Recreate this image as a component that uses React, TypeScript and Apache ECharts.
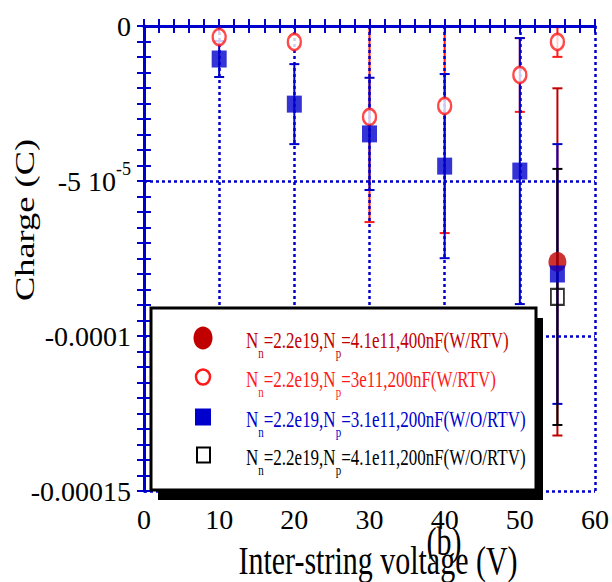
import React, { useEffect, useRef } from "react";
import * as echarts from "echarts";

// ---- data ----
const xRedFilled = [55];
const redFilledVals = [-7.61e-5];
const redFilledErr = [5.6e-5];

const xRedOpen = [10, 20, 30, 40, 50, 55];
const redOpenVals = [-3.55e-6, -5.16e-6, -2.935e-5, -2.58e-5, -1.58e-5, -5.16e-6];
const redOpenErr = [0, 0, 3.39e-5, 4.1e-5, 1.19e-5, 4.8e-6];

const xBlue = [10, 20, 30, 40, 50, 55];
const blueVals = [-1.065e-5, -2.52e-5, -3.48e-5, -4.52e-5, -4.68e-5, -8.0e-5];
const blueErr = [5.8e-6, 1.29e-5, 1.81e-5, 2.97e-5, 4.29e-5, 4.19e-5];

const xBlack = [55];
const blackVals = [-8.74e-5];
const blackErr = [4.13e-5];

const yTickValues = [0, -5e-5, -1e-4, -1.5e-4];
const yTickLabels = ["0", "-5 10{sup|-5}", "-0.0001", "-0.00015"];

const seriesNames = [
  "N{sub|n}=2.2e19,N{sub|p}=4.1e11,400nF(W/RTV)",
  "N{sub|n}=2.2e19,N{sub|p}=3e11,200nF(W/RTV)",
  "N{sub|n}=2.2e19,N{sub|p}=3.1e11,200nF(W/O/RTV)",
  "N{sub|n}=2.2e19,N{sub|p}=4.1e11,200nF(W/O/RTV)",
];

const xTitle = "Inter-string voltage (V)";
const yTitle = "Charge (C)";
const panelLabel = "(b)";

// ---- styles ----
const FONT = "'Liberation Serif', 'Times New Roman', serif";
const BLUE = "#0000cc";
const DARKRED = "#c00000";
const RED = "#ff1a1a";
const BLACK = "#000000";

function errSeries(xs: number[], vals: number[], errs: number[], color: string) {
  return {
    type: "custom",
    z: 1,
    silent: true,
    data: xs.map((x, i) => [x, vals[i], errs[i]]),
    renderItem: (params: any, api: any) => {
      const x = api.value(0);
      const v = api.value(1);
      const e = api.value(2);
      if (!e) return { type: "group", children: [] };
      const cs = params.coordSys;
      const top = api.coord([x, v + e]);
      const bot = api.coord([x, v - e]);
      const px = top[0];
      const yTop = Math.max(top[1], cs.y);
      const yBot = Math.min(bot[1], cs.y + cs.height);
      const st = { stroke: color, lineWidth: 2 };
      const children: any[] = [
        { type: "line", shape: { x1: px, y1: yTop, x2: px, y2: yBot }, style: st },
      ];
      if (top[1] >= cs.y)
        children.push({ type: "line", shape: { x1: px - 5, y1: top[1], x2: px + 5, y2: top[1] }, style: st });
      if (bot[1] <= cs.y + cs.height)
        children.push({ type: "line", shape: { x1: px - 5, y1: bot[1], x2: px + 5, y2: bot[1] }, style: st });
      return { type: "group", children };
    },
  };
}

const tickCommon = {
  axisLine: { show: true, lineStyle: { color: BLUE, width: 3 } },
  axisTick: { show: true, inside: true, length: 7, lineStyle: { color: BLUE, width: 2 } },
};

export default function App() {
  const ref = useRef<HTMLDivElement>(null);
  useEffect(() => {
    if (!ref.current) return;
    const chart = echarts.init(ref.current, null, { renderer: "svg", width: 612, height: 582 });
    const legendRows = [338, 377, 417, 455];
    const legendColors = [DARKRED, RED, BLUE, BLACK];
    const legendMarkers: any[] = [
      { type: "ellipse", shape: { cx: 203, cy: legendRows[0], rx: 9.5, ry: 11.5 }, style: { fill: DARKRED } },
      { type: "ellipse", shape: { cx: 203, cy: legendRows[1], rx: 7, ry: 7.5 }, style: { fill: "#fff", stroke: RED, lineWidth: 2.5 } },
      { type: "rect", shape: { x: 195, y: legendRows[2] - 8.5, width: 16, height: 17 }, style: { fill: BLUE } },
      { type: "rect", shape: { x: 197, y: legendRows[3] - 7.5, width: 13, height: 15 }, style: { fill: "#fff", stroke: BLACK, lineWidth: 2 } },
    ];
    const legendTexts = seriesNames.map((name, i) => ({
      type: "text",
      x: 246,
      y: legendRows[i] + 2,
      scaleY: 1.3,
      style: {
        text: name,
        fill: legendColors[i],
        fontFamily: FONT,
        fontSize: 17,
        align: "left",
        verticalAlign: "middle",
        rich: {
          sub: { fontSize: 11, fontFamily: FONT, fill: legendColors[i], padding: [21, 0, 0, 0] },
        },
      },
    }));

    const option: any = {
      animation: false,
      backgroundColor: "#ffffff",
      textStyle: { fontFamily: FONT },
      grid: { left: 144, right: 14, top: 26, bottom: 91, containLabel: false },
      xAxis: [
        {
          type: "value",
          min: 0,
          max: 60,
          interval: 10,
          position: "bottom",
          z: 2,
          ...tickCommon,
          minorTick: { show: true, splitNumber: 5, length: 7, lineStyle: { color: BLUE, width: 2 } },
          splitLine: { show: true, lineStyle: { color: BLUE, width: 2.5, type: [3, 3] } },
          axisLabel: { color: BLACK, fontFamily: FONT, fontSize: 28, margin: 14 },
        },
        {
          type: "value",
          min: 0,
          max: 60,
          interval: 10,
          position: "top",
          z: 2,
          ...tickCommon,
          minorTick: { show: true, splitNumber: 5, length: 7, lineStyle: { color: BLUE, width: 2 } },
          splitLine: { show: false },
          axisLabel: { show: false },
        },
      ],
      yAxis: [
        {
          type: "value",
          min: -1.5e-4,
          max: 0,
          interval: 5e-5,
          position: "left",
          z: 2,
          ...tickCommon,
          minorTick: { show: true, splitNumber: 10, length: 7, lineStyle: { color: BLUE, width: 2 } },
          splitLine: { show: true, lineStyle: { color: BLUE, width: 2.5, type: [3, 3] } },
          axisLabel: {
            color: BLACK,
            fontFamily: FONT,
            fontSize: 28,
            margin: 13,
            formatter: (v: number) => {
              const i = yTickValues.findIndex((t) => Math.abs(t - v) < 1e-9);
              return i >= 0 ? yTickLabels[i] : "";
            },
            rich: { sup: { fontSize: 18, fontFamily: FONT, color: BLACK, padding: [0, 0, 24, 0] } },
          },
        },
        {
          type: "value",
          min: -1.5e-4,
          max: 0,
          interval: 5e-5,
          position: "right",
          z: 2,
          ...tickCommon,
          minorTick: { show: true, splitNumber: 10, length: 7, lineStyle: { color: BLUE, width: 2 } },
          splitLine: { show: false },
          axisLabel: { show: false },
        },
      ],
      series: [
        errSeries(xRedFilled, redFilledVals, redFilledErr, DARKRED),
        errSeries(xRedOpen, redOpenVals, redOpenErr, RED),
        errSeries(xBlue, blueVals, blueErr, BLUE),
        errSeries(xBlack, blackVals, blackErr, BLACK),
        {
          type: "scatter",
          name: seriesNames[0],
          z: 3,
          symbol: "circle",
          symbolSize: [18, 20],
          itemStyle: { color: DARKRED },
          data: xRedFilled.map((x, i) => [x, redFilledVals[i]]),
        },
        {
          type: "scatter",
          name: seriesNames[1],
          z: 3,
          symbol: "circle",
          symbolSize: [13, 16],
          itemStyle: { color: "#ffffff", borderColor: RED, borderWidth: 2.5 },
          data: xRedOpen.map((x, i) => [x, redOpenVals[i]]),
        },
        {
          type: "scatter",
          name: seriesNames[2],
          z: 3,
          symbol: "rect",
          symbolSize: [15, 17],
          itemStyle: { color: BLUE },
          data: xBlue.map((x, i) => [x, blueVals[i]]),
        },
        {
          type: "scatter",
          name: seriesNames[3],
          z: 3,
          symbol: "rect",
          symbolSize: [13, 16],
          itemStyle: { color: "rgba(0,0,0,0)", borderColor: BLACK, borderWidth: 2 },
          data: xBlack.map((x, i) => [x, blackVals[i]]),
        },
      ],
      graphic: [
        {
          type: "group",
          z: 10,
          children: [
            { type: "rect", z: 10, shape: { x: 158, y: 318, width: 385, height: 182 }, style: { fill: BLACK } },
            { type: "rect", z: 10, shape: { x: 151, y: 308, width: 385, height: 182 }, style: { fill: "#fff", stroke: BLACK, lineWidth: 3 } },
            ...legendMarkers.map((m) => ({ ...m, z: 11 })),
            ...legendTexts.map((t) => ({ ...t, z: 11 })),
          ],
        },
        {
          type: "text",
          x: 378,
          y: 561,
          scaleY: 1.3,
          style: { text: xTitle, fontFamily: FONT, fontSize: 30, fill: BLACK, align: "center", verticalAlign: "middle" },
        },
        {
          type: "text",
          x: 444,
          y: 542,
          scaleY: 1.3,
          style: { text: panelLabel, fontFamily: FONT, fontSize: 30, fill: BLACK, align: "center", verticalAlign: "middle" },
        },
        {
          type: "text",
          x: 25,
          y: 220,
          rotation: Math.PI / 2,
          scaleX: 1.3,
          style: { text: yTitle, fontFamily: FONT, fontSize: 28, fill: BLACK, align: "center", verticalAlign: "middle" },
        },
      ],
    };
    chart.setOption(option);
    return () => chart.dispose();
  }, []);
  return (
    <div
      ref={ref}
      style={{ position: "fixed", left: 0, top: 0, width: 612, height: 582, background: "#fff" }}
    />
  );
}
